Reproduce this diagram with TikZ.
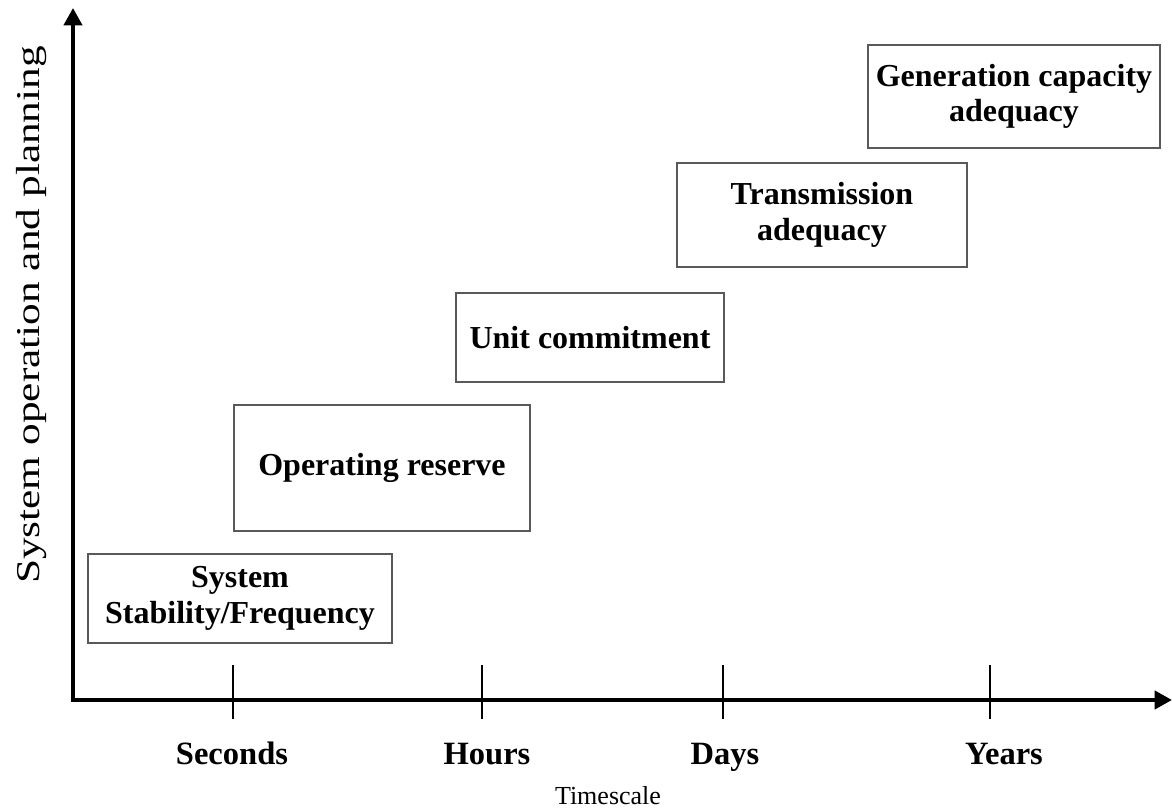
\documentclass[tikz,border=0pt]{standalone}
\usepackage{fontspec}
\setmainfont{Liberation Serif}
\usetikzlibrary{arrows.meta, positioning}

\begin{document}
\begin{tikzpicture}[
  x=0.75pt, y=-0.75pt,
  tbox/.style={draw=black!65, line width=1.1pt, inner sep=0pt, align=center,
               font=\fontsize{24}{26.5}\selectfont\bfseries},
  axisline/.style={line width=3pt, -{Triangle[length=13pt, width=13.5pt]}},
  tickline/.style={line width=1.3pt},
  tlabel/.style={anchor=base, font=\fontsize{24.4}{26}\selectfont\bfseries},
  alabel/.style={anchor=base, font=\fontsize{19.5}{22}\selectfont}
]
  \useasboundingbox (0,0) rectangle (1172,812);

  % Axes
  \coordinate (origin) at (73,700);
  \coordinate (ytip) at (73,8);
  \coordinate (xtip) at (1172,700);
  \draw[axisline] ([xshift=-1.5pt]origin) -- (xtip);
  \draw[axisline] ([yshift=-1.5pt]origin) -- (ytip);

  % Ticks and timescale labels
  \foreach \x/\lx/\lab in {233/232/Seconds, 482/487/Hours, 723/725/Days, 990/1004/Years} {
    \coordinate (t\lab) at (\x,700);
    \draw[tickline] ([yshift=26pt]t\lab) -- ([yshift=-14.5pt]t\lab);
    \node[tlabel] (l\lab) at (\lx,765) {\lab};
  }

  % Axis titles
  \node[alabel] (tscale) at (608,805) {Timescale};
  \node[alabel, rotate=90, font=\fontsize{25}{27}\selectfont] (yttl) at (39,315)
    {\scalebox{1.3}[1]{System operation and planning}};

  % Boxes
  \node[tbox, minimum width=228pt, minimum height=66.75pt] (stab) at (240,598.5) {System\\Stability/Frequency};
  \node[tbox, minimum width=222pt, minimum height=94.5pt] (res) at (382,468) {Operating reserve};
  \node[tbox, minimum width=201pt, minimum height=66.75pt] (uc) at (590,337.5) {Unit commitment};
  \node[tbox, minimum width=217.5pt, minimum height=78pt] (trans) at (822,215) {Transmission\\adequacy};
  \node[tbox, minimum width=219pt, minimum height=77.25pt] (gen) at (1014,96.5) {Generation capacity\\adequacy};
\end{tikzpicture}
\end{document}
